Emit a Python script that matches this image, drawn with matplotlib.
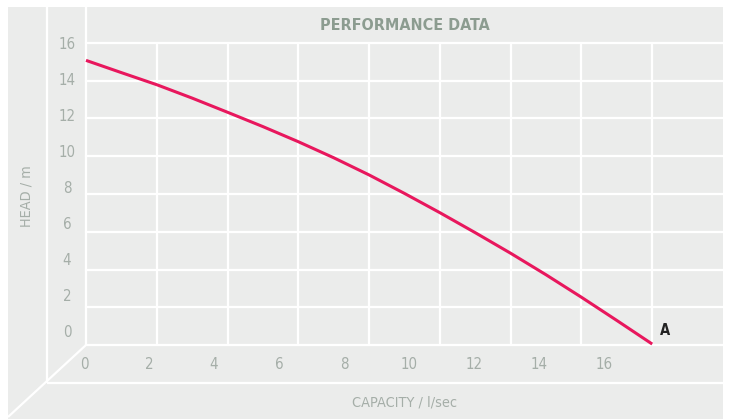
import matplotlib
matplotlib.use("Agg")
import matplotlib.pyplot as plt
from matplotlib.patches import Rectangle
from matplotlib import font_manager as fm

# ---- data ----
capacity = [0, 1, 2, 3, 4, 5, 6, 7, 8, 9, 10, 11, 12, 13, 14, 15, 16]
head = [15.08, 14.43, 13.79, 13.08, 12.33, 11.57, 10.77, 9.92, 9.01,
        8.03, 7.01, 5.95, 4.86, 3.72, 2.53, 1.30, 0.05]
x_ticks = [0, 2, 4, 6, 8, 10, 12, 14, 16]
y_ticks = [0, 2, 4, 6, 8, 10, 12, 14, 16]
title = "PERFORMANCE DATA"
x_label = "CAPACITY / l/sec"
y_label = "HEAD / m"
end_label = "A"


def pick_font():
    cands = [("Liberation Sans Narrow", {}, "Narrow"),
             ("DejaVu Sans", {"stretch": "condensed"}, "Condensed"),
             ("Roboto Condensed", {}, "Condensed"),
             ("Roboto", {}, "Roboto"),
             ("Lato", {}, "Lato")]
    for fam, kw, key in cands:
        try:
            p = fm.findfont(fm.FontProperties(family=fam, **kw),
                            fallback_to_default=False)
        except Exception:
            continue
        if key.lower() in p.lower():
            return fam, kw, key in ("Narrow", "Condensed")
    return "DejaVu Sans", {}, False


FAM, FKW, NARROW = pick_font()
FONT = [FAM, "DejaVu Sans"]
SC = 1.0 if NARROW else 0.88

W, H = 731, 419
BG = "#EBECEB"
TICK_C = "#A5AEA8"
TITLE_C = "#8C9C90"
CURVE_C = "#E8175D"
LW = 1.6

fig = plt.figure(figsize=(W / 100, H / 100), dpi=100)
fig.patch.set_facecolor("white")

# background / frame axes in pixel coords
bg = fig.add_axes([0, 0, 1, 1])
bg.set_xlim(0, W)
bg.set_ylim(H, 0)
bg.axis("off")
bg.add_patch(Rectangle((8, 7), 723 - 8, H - 7, facecolor=BG, edgecolor="none"))
bg.plot([47, 47], [7, 383], color="white", lw=LW, solid_capstyle="butt")
bg.plot([86, 86], [7, 345], color="white", lw=LW, solid_capstyle="butt")
bg.plot([47, 723], [383, 383], color="white", lw=LW, solid_capstyle="butt")
bg.plot([8, 86], [417, 345], color="white", lw=LW, solid_capstyle="butt")
bg.text(27, 196, y_label, rotation=90, ha="center", va="center",
        fontsize=10.4 * SC, color=TICK_C, family=FONT, **FKW)
bg.text(405, 402, x_label, ha="center", va="center",
        fontsize=10.4 * SC, color=TICK_C, family=FONT, **FKW)
bg.text(405, 25, title, ha="center", va="center", fontsize=11.5 * SC,
        fontweight="bold", color=TITLE_C, family=FONT, **FKW)

# main plotting axes
ax = fig.add_axes([86 / W, 1 - 345 / H, (723 - 86) / W, (345 - 43) / H])
ax.patch.set_alpha(0)
ax.set_xlim(0, 18)
ax.set_ylim(0, 16)
for s in ax.spines.values():
    s.set_visible(False)
ax.set_xticks([])
ax.set_yticks([])
for xv in x_ticks[1:]:
    ax.axvline(xv, color="white", lw=LW, zorder=1)
for yv in y_ticks:
    ax.axhline(yv, color="white", lw=LW, zorder=1, clip_on=False)
ax.plot(capacity, head, color=CURVE_C, lw=2.2, zorder=3,
        solid_capstyle="butt", solid_joinstyle="round", clip_on=False)
ax.annotate(end_label, (capacity[-1], head[-1]), xytext=(8, 14),
            textcoords="offset pixels", ha="left", va="center",
            fontsize=10.5 * SC, fontweight="bold", color="#222222",
            family=FONT, **FKW)

# floor band for x tick labels (oblique projection)
fl = fig.add_axes([84 / W, 1 - 383 / H, 32.5 * 18 / W, 38 / H])
fl.set_xlim(0, 18)
fl.set_ylim(0, 1)
fl.axis("off")
for xv in x_ticks:
    fl.text(xv, 0.5, str(xv), ha="center", va="center",
            fontsize=10.8 * SC, color=TICK_C, family=FONT, **FKW)

# wall band for y tick labels
wl = fig.add_axes([47 / W, 1 - 332 / H, 39 / W, (332 - 44) / H])
wl.set_xlim(0, 1)
wl.set_ylim(0, 16)
wl.axis("off")
for yv in y_ticks:
    wl.text(0.51, yv, str(yv), ha="center", va="center",
            fontsize=10.8 * SC, color=TICK_C, family=FONT, **FKW)

fig.savefig("out.png", dpi=100)
